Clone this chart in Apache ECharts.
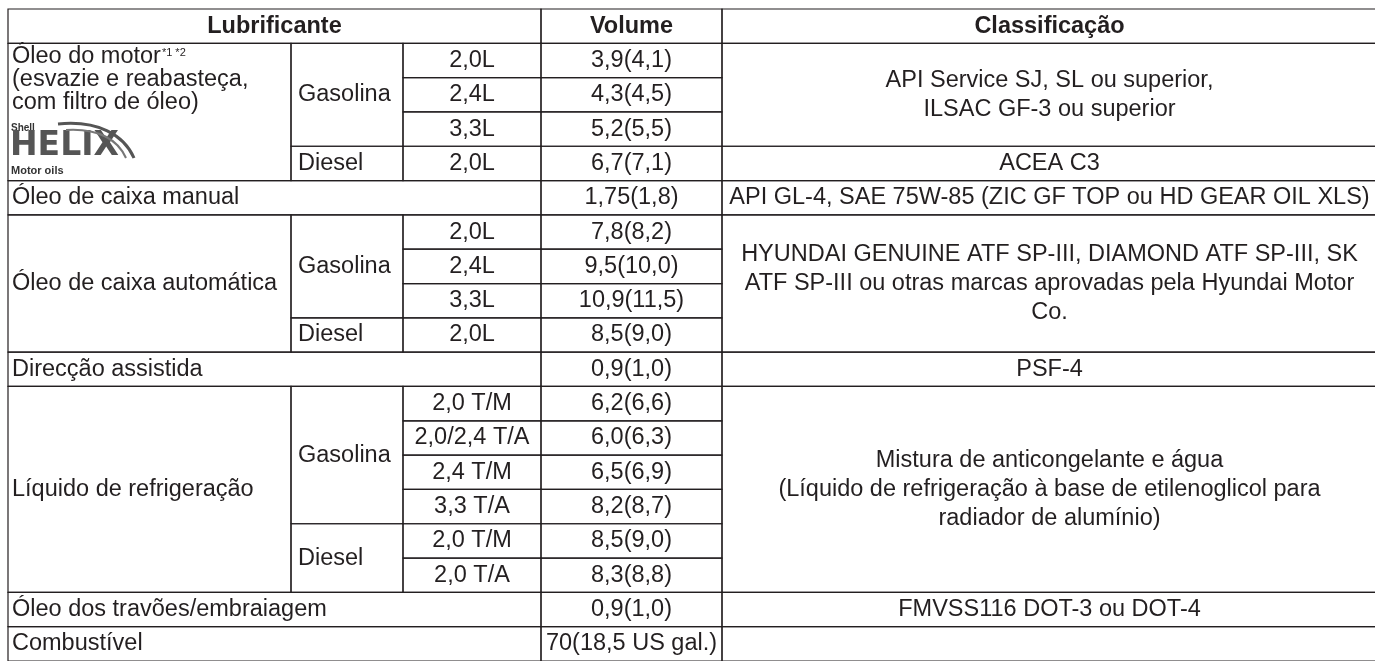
<!DOCTYPE html>
<html><head><meta charset="utf-8">
<script src="https://cdn.jsdelivr.net/npm/echarts@6/dist/echarts.min.js"></script>
<style>html,body{margin:0;padding:0;background:#fff}#c{width:1375px;height:661px}</style>
</head><body><div id="c"></div>
<script>
// ---- data ----
const headers = ['Lubrificante', 'Volume', 'Classificação'];
const lubricantNames = [
  'Óleo do motor\n(esvazie e reabasteça,\ncom filtro de óleo)',
  'Óleo de caixa manual',
  'Óleo de caixa automática',
  'Direcção assistida',
  'Líquido de refrigeração',
  'Óleo dos travões/embraiagem',
  'Combustível'
];
const lubricantNotes = ['*1 *2', '', '', '', '', '', ''];
const rowGroup  = [0,0,0,0, 1, 2,2,2,2, 3, 4,4,4,4,4,4, 5, 6];
const rowFuel   = ['Gasolina','Gasolina','Gasolina','Diesel', '',
                   'Gasolina','Gasolina','Gasolina','Diesel', '',
                   'Gasolina','Gasolina','Gasolina','Gasolina','Diesel','Diesel', '', ''];
const rowEngine = ['2,0L','2,4L','3,3L','2,0L', '',
                   '2,0L','2,4L','3,3L','2,0L', '',
                   '2,0 T/M','2,0/2,4 T/A','2,4 T/M','3,3 T/A','2,0 T/M','2,0 T/A', '', ''];
const rowVolume = ['3,9(4,1)','4,3(4,5)','5,2(5,5)','6,7(7,1)', '1,75(1,8)',
                   '7,8(8,2)','9,5(10,0)','10,9(11,5)','8,5(9,0)', '0,9(1,0)',
                   '6,2(6,6)','6,0(6,3)','6,5(6,9)','8,2(8,7)','8,5(9,0)','8,3(8,8)',
                   '0,9(1,0)','70(18,5 US gal.)'];
const classifications = [
  'API Service SJ, SL ou superior,\nILSAC GF-3 ou superior',
  'ACEA C3',
  'API GL-4, SAE 75W-85 (ZIC GF TOP ou HD GEAR OIL XLS)',
  'HYUNDAI GENUINE ATF SP-III, DIAMOND ATF SP-III, SK\nATF SP-III ou otras marcas aprovadas pela Hyundai Motor\nCo.',
  'PSF-4',
  'Mistura de anticongelante e água\n(Líquido de refrigeração à base de etilenoglicol para\nradiador de alumínio)',
  'FMVSS116 DOT-3 ou DOT-4',
  ''
];
const rowClass = [0,0,0,1, 2, 3,3,3,3, 4, 5,5,5,5,5,5, 6, 7];

// ---- layout ----
const colX = [8, 291, 403, 541, 722, 1377];
const FONT = '"Liberation Sans", Arial, Helvetica, sans-serif';
const INK = '#231f20';
const FS = 23.5;

// ---- build cells ----
const cells = [];
cells.push({c0:0, c1:3, r0:0, r1:1, text:headers[0], kind:'head'});
cells.push({c0:3, c1:4, r0:0, r1:1, text:headers[1], kind:'head'});
cells.push({c0:4, c1:5, r0:0, r1:1, text:headers[2], kind:'head'});
const n = rowVolume.length;
let i = 0;
while (i < n) {
  const g = rowGroup[i]; let j = i;
  while (j < n && rowGroup[j] === g) j++;
  const hasSub = rowFuel[i] !== '';
  cells.push({c0:0, c1:hasSub ? 1 : 3, r0:i+1, r1:j+1, text:lubricantNames[g], note:lubricantNotes[g], kind:'group'});
  i = j;
}
i = 0;
while (i < n) {
  if (rowFuel[i] === '') { i++; continue; }
  let j = i;
  while (j < n && rowFuel[j] === rowFuel[i] && rowGroup[j] === rowGroup[i]) j++;
  cells.push({c0:1, c1:2, r0:i+1, r1:j+1, text:rowFuel[i], kind:'fuel'});
  i = j;
}
for (let k = 0; k < n; k++) {
  if (rowEngine[k] !== '') cells.push({c0:2, c1:3, r0:k+1, r1:k+2, text:rowEngine[k], kind:'center'});
  cells.push({c0:3, c1:4, r0:k+1, r1:k+2, text:rowVolume[k], kind:'center'});
}
i = 0;
while (i < n) {
  let j = i;
  while (j < n && rowClass[j] === rowClass[i]) j++;
  cells.push({c0:4, c1:5, r0:i+1, r1:j+1, text:classifications[rowClass[i]], kind:'class'});
  i = j;
}

function renderItem(params, api) {
  const c = cells[params.dataIndex];
  const p0 = api.coord([api.value(0), api.value(1)]);
  const p1 = api.coord([api.value(2), api.value(3)]);
  const x = p0[0], y = p0[1], w = p1[0] - p0[0], h = p1[1] - p0[1];
  const base = {fontFamily: FONT, fontSize: FS, fill: INK};
  let txt;
  if (c.kind === 'head') {
    txt = Object.assign({}, base, {text:c.text, x:x+w/2, y:y+h/2, align:'center', verticalAlign:'middle', fontWeight:'bold'});
  } else if (c.kind === 'group') {
    if (c.note) {
      const lines = c.text.split('\n');
      const rich = '{m|' + lines[0] + '}{s|' + c.note + '}\n' + lines.slice(1).map(l => '{m|' + l + '}').join('\n');
      txt = Object.assign({}, base, {text:rich, x:x+4, y:y+2, align:'left', verticalAlign:'top',
        rich:{m:{fontFamily:FONT, fontSize:FS, lineHeight:23, fill:INK},
              s:{fontFamily:FONT, fontSize:11, lineHeight:23, verticalAlign:'top', fill:INK, padding:[2,0,0,1]}}});
    } else {
      txt = Object.assign({}, base, {text:c.text, x:x+4, y:y+h/2, align:'left', verticalAlign:'middle'});
    }
  } else if (c.kind === 'fuel') {
    txt = Object.assign({}, base, {text:c.text, x:x+7, y:y+h/2, align:'left', verticalAlign:'middle'});
  } else if (c.kind === 'class') {
    txt = Object.assign({}, base, {text:c.text, x:x+w/2, y:y+h/2, align:'center', verticalAlign:'middle', lineHeight:29});
  } else {
    txt = Object.assign({}, base, {text:c.text, x:x+w/2, y:y+h/2, align:'center', verticalAlign:'middle'});
  }
  return {type:'group', children:[
    {type:'rect', shape:{x:x, y:y, width:w, height:h}, style:{fill:'none', stroke:INK, lineWidth:1.2}},
    {type:'text', style:txt}
  ]};
}

const chart = echarts.init(document.getElementById('c'), null, {renderer:'canvas'});
chart.setOption({
  animation: false,
  grid: {left:0, right:0, top:9, height:656},
  xAxis: {type:'value', min:0, max:1375, show:false},
  yAxis: {type:'value', min:0, max:19, inverse:true, show:false},
  graphic: [
    {type:'text', left:11, top:123, style:{text:'Shell', fontFamily:FONT, fontWeight:'bold', fontSize:10, fill:'#333'}},
    {type:'text', left:10, top:130, style:{text:'HELIX', fontFamily:'"DejaVu Sans", sans-serif', fontWeight:'bold', fontSize:33, fill:'#555'}},
    {type:'bezierCurve', shape:{x1:58, y1:124, cpx1:98, cpy1:120, cpx2:124, cpy2:135, x2:134, y2:158}, style:{stroke:'#555', lineWidth:3, fill:'none'}},
    {type:'bezierCurve', shape:{x1:66, y1:130, cpx1:99, cpy1:128, cpx2:118, cpy2:140, x2:126, y2:158}, style:{stroke:'#777', lineWidth:2, fill:'none'}},
    {type:'text', left:11, top:165, style:{text:'Motor oils', fontFamily:FONT, fontWeight:'bold', fontSize:11, fill:'#333'}}
  ],
  series: [{
    type:'custom', clip:false, renderItem: renderItem,
    data: cells.map(c => [colX[c.c0], c.r0, colX[c.c1], c.r1])
  }]
});
</script></body></html>
